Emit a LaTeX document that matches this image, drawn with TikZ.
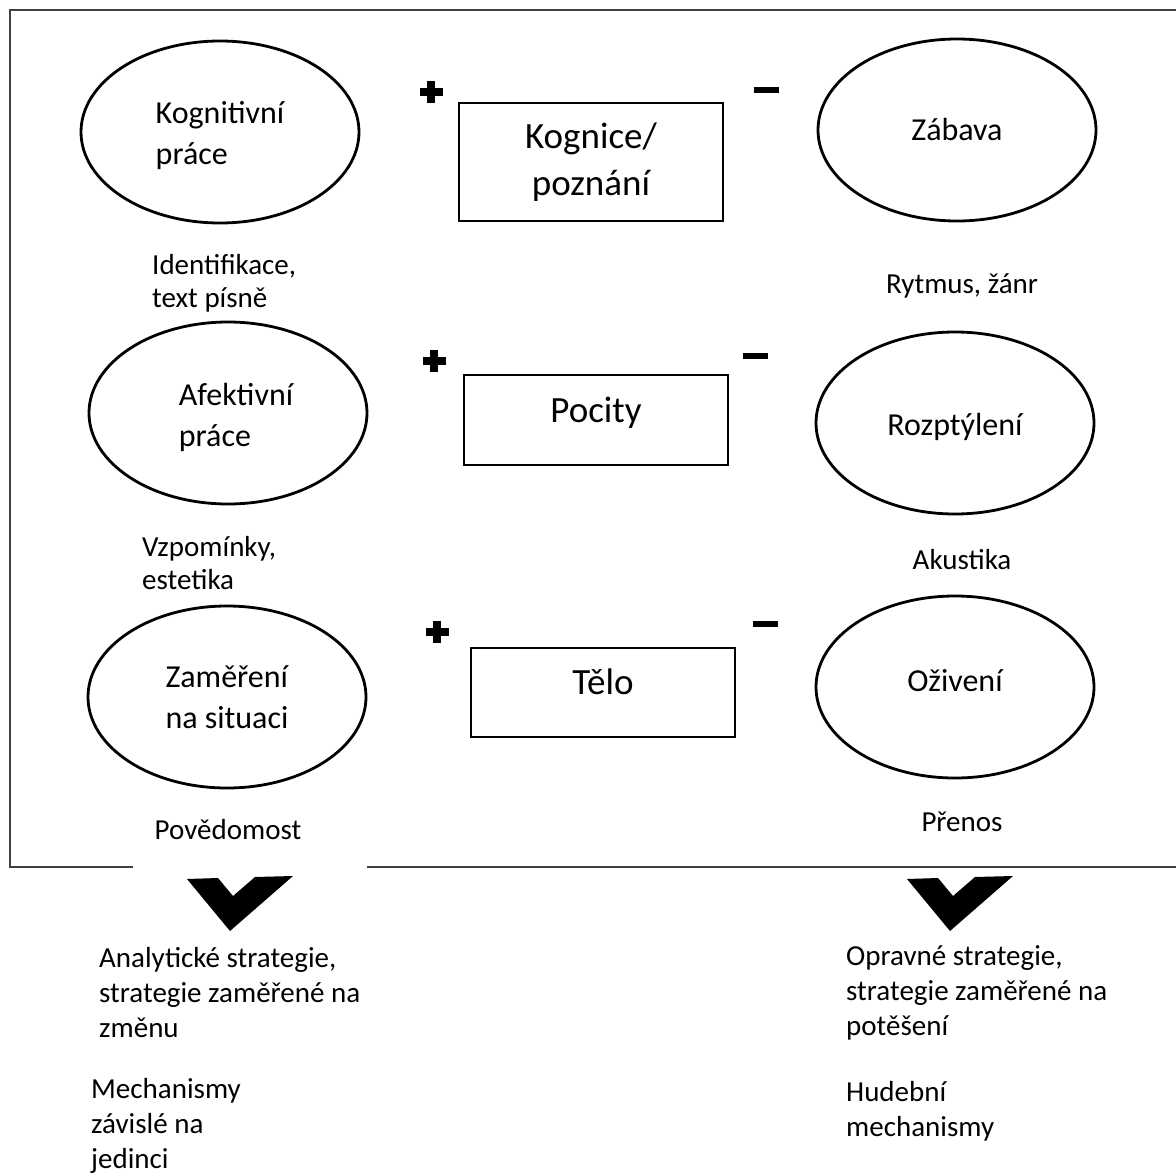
\documentclass[tikz,border=0pt]{standalone}
\usepackage{fontspec}
\setmainfont{Carlito}
\usetikzlibrary{shapes.geometric}

\newcommand{\plusmark}[1]{\fill (#1) ++(-11.5,-4) rectangle ++(23,8); \fill (#1) ++(-4,-11) rectangle ++(8,22);}
\newcommand{\minusmark}[1]{\fill (#1) ++(-12.5,-3.2) rectangle ++(25,6.4);}

\begin{document}
\begin{tikzpicture}[x=1pt,y=-1pt,oval/.style={shape=ellipse,draw=black,line width=2.8pt,minimum width=278pt,minimum height=182pt,align=left,font=\fontsize{32}{41}\selectfont},box/.style={shape=rectangle,draw=black,line width=1.4pt,minimum width=264pt,align=center,font=\fontsize{37}{47}\selectfont},note/.style={align=left,inner sep=0pt,font=\fontsize{29}{33}\selectfont},noteB/.style={note,anchor=west,font=\fontsize{29}{35}\selectfont},chevron/.style={fill=black}]
\useasboundingbox (0,0) rectangle (1176,1173);

% frame (open under the left label)
\draw[line width=2pt,black!75] (133,867) -- (10,867) -- (10,10) -- (1185,10);
\draw[line width=2pt,black!75] (367,867) -- (1185,867);

% left column
\node[oval,text height=70pt] (KP) at (220,132) {Kognitivní\\práce};
\node[oval,text height=73pt] (AP) at (228,413) {\hspace*{16pt}Afektivní\\\hspace*{16pt}práce};
\node[oval] (ZS) at (227,697) {Zaměření\\na situaci};

% right column
\node[oval] (ZA) at (957,130) {Zábava};
\node[oval,text height=30pt] (RO) at (955,423) {Rozptýlení};
\node[oval,text depth=14pt] (OZ) at (955,687) {Oživení};

% middle boxes
\node[box,minimum height=118pt] (KO) at (591,162) {Kognice/\\poznání};
\node[box,minimum height=90pt,text depth=21pt] (PO) at (596,420) {Pocity};
\node[box,minimum height=89pt,text depth=21pt] (TE) at (603,692.5) {Tělo};

\plusmark{431,92}
\minusmark{766.5,90}
\plusmark{434,361}
\minusmark{755,356}
\plusmark{437,632}
\minusmark{765.5,624}

% labels under the ovals
\node[note,anchor=west] (L1) at (152,283) {Identifikace,\\text písně};
\node[note] (R1) at (962,285.5) {Rytmus, žánr};
\node[note,anchor=west] (L2) at (142,563.5) {Vzpomínky,\\estetika};
\node[note] (R2) at (962,560) {Akustika};
\node[note] (L3) at (228,830) {Povědomost};
\node[note] (R3) at (962,822) {Přenos};

% chevrons
\fill[chevron] (187,879) -- (218,878) -- (233,896) -- (255,877) -- (293,876) -- (230,931) -- cycle;
\fill[chevron] (907,879) -- (938,878) -- (953,896) -- (975,877) -- (1013,876) -- (950,931) -- cycle;

% outcomes
\node[noteB] (SL) at (99,992.5) {Analytické strategie,\\strategie zaměřené na\\změnu};
\node[noteB] (ML) at (91,1126) {Mechanismy\\závislé na\\jedinci};
\node[noteB] (SR) at (846,992.5) {Opravné strategie,\\strategie zaměřené na\\potěšení};
\node[noteB] (MR) at (846,1111) {Hudební\\mechanismy};

\end{tikzpicture}
\end{document}
